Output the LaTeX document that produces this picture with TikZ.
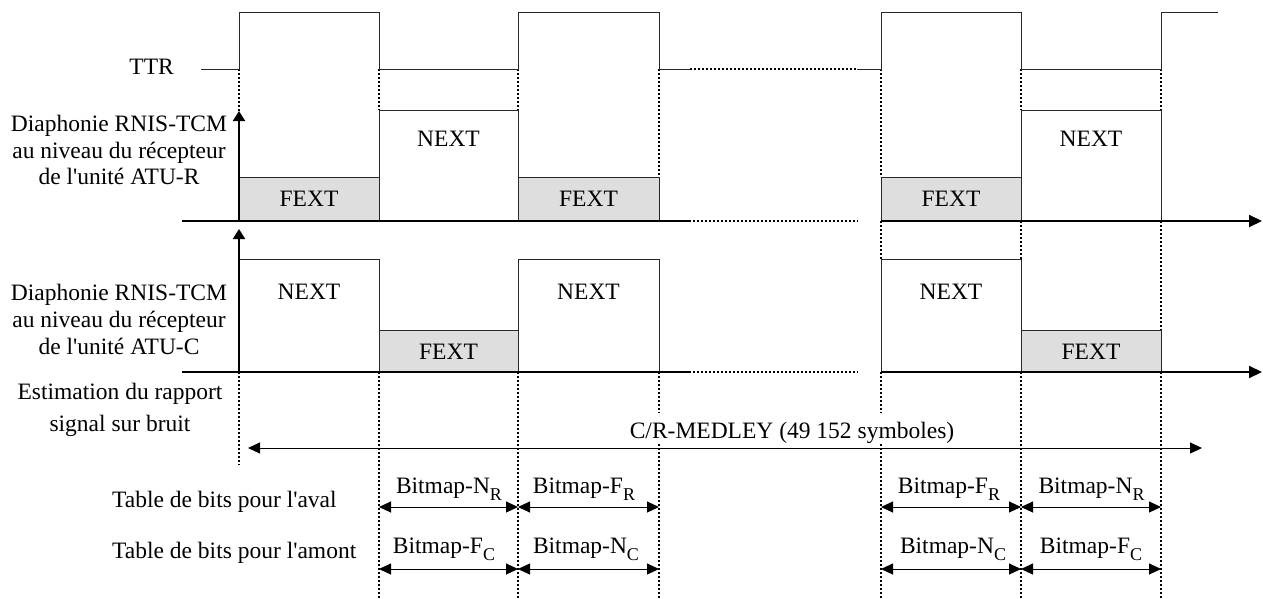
\documentclass[tikz,border=0pt]{standalone}
\usepackage{fontspec}
\newfontfamily\tnr{Liberation Serif}
\usetikzlibrary{arrows.meta}
\definecolor{fextgray}{RGB}{222,222,222}
\definecolor{boxline}{RGB}{40,40,40}
\newcommand{\sbt}[1]{\raisebox{-7pt}{\fontsize{18}{18}\selectfont #1}}
\begin{document}
\begin{tikzpicture}[x=1pt,y=-1pt,
  every node/.style={font=\tnr\fontsize{23.5}{28}\selectfont, inner sep=0pt, anchor=base},
  boxr/.style={draw=boxline, line width=1pt},
  fext/.style={boxr, fill=fextgray},
  sig/.style={draw=boxline, line width=1pt},
  axisline/.style={line width=2pt},
  axis/.style={line width=2pt, -{Triangle[length=13pt,width=12pt]}},
  uparrow/.style={line width=2pt, -{Triangle[length=10pt,width=12pt]}},
  vdots/.style={line width=2pt, dash pattern=on 2.2pt off 1.8pt},
  hdots/.style={line width=1.8pt, dash pattern=on 2.2pt off 1.8pt},
  span/.style={line width=1pt, {Triangle[length=12pt,width=11pt]}-{Triangle[length=12pt,width=11pt]}}]

\useasboundingbox (0,0) rectangle (1263,598);

% ---- dotted vertical guides ----
\draw[vdots] (239,69) -- (239,111);
\draw[vdots] (239,372) -- (239,465);
\draw[vdots] (379,69) -- (379,110);
\draw[vdots] (379,372) -- (379,598);
\draw[vdots] (518,69) -- (518,110);
\draw[vdots] (518,372) -- (518,598);
\draw[vdots] (659,69) -- (659,177);
\draw[vdots] (659,372) -- (659,413);
\draw[vdots] (659,444) -- (659,598);
\draw[vdots] (881,69) -- (881,177);
\draw[vdots] (881,221) -- (881,259);
\draw[vdots] (881,372) -- (881,413);
\draw[vdots] (881,444) -- (881,598);
\draw[vdots] (1021,69) -- (1021,110);
\draw[vdots] (1021,221) -- (1021,259);
\draw[vdots] (1021,372) -- (1021,598);
\draw[vdots] (1161,69) -- (1161,110);
\draw[vdots] (1161,221) -- (1161,330);
\draw[vdots] (1161,372) -- (1161,598);

% ---- TTR signal ----
\draw[sig] (201,69) -- (239,69) -- (239,12) -- (379,12) -- (379,69) -- (518,69) -- (518,12) -- (659,12) -- (659,69) -- (690,69);
\draw[hdots] (690,69) -- (857,69);
\draw[sig] (857,69) -- (881,69) -- (881,12) -- (1021,12) -- (1021,69) -- (1161,69) -- (1161,12) -- (1218,12);

% ---- ATU-R crosstalk ----
\draw[fext] (239,177) rectangle (379,221);
\draw[boxr] (379,110) rectangle (518,221);
\draw[fext] (518,177) rectangle (659,221);
\draw[fext] (881,177) rectangle (1021,221);
\draw[boxr] (1021,110) rectangle (1161,221);
\node (rf1) at (309,206.5) {FEXT};
\node (rn1) at (448.5,146) {NEXT};
\node (rf2) at (588.5,206.5) {FEXT};
\node (rf3) at (951,206.5) {FEXT};
\node (rn2) at (1091,146) {NEXT};

% ---- ATU-C crosstalk ----
\draw[boxr] (239,259) rectangle (379,372);
\draw[fext] (379,330) rectangle (518,372);
\draw[boxr] (518,259) rectangle (659,372);
\draw[boxr] (881,259) rectangle (1021,372);
\draw[fext] (1021,330) rectangle (1161,372);
\node (cn1) at (309,299) {NEXT};
\node (cf1) at (448.5,359) {FEXT};
\node (cn2) at (588.5,299) {NEXT};
\node (cn3) at (951,299) {NEXT};
\node (cf2) at (1091,359) {FEXT};

% ---- axes ----
\coordinate (uA0) at (182,221);
\coordinate (uA1) at (689,221);
\coordinate (uD1) at (858,221);
\coordinate (uA2) at (881,221);
\coordinate (uA3) at (1262,221);
\draw[axisline] (uA0) -- (uA1);
\draw[hdots] (uA1) -- (uD1);
\draw[axis] (uA2) -- (uA3);
\coordinate (lA0) at (182,372);
\coordinate (lA1) at (689,372);
\coordinate (lD1) at (858,372);
\coordinate (lA2) at (881,372);
\coordinate (lA3) at (1262,372);
\draw[axisline] (lA0) -- (lA1);
\draw[hdots] (lA1) -- (lD1);
\draw[axis] (lA2) -- (lA3);
\coordinate (uO) at (239,221);
\coordinate (uT) at (239,111);
\draw[uparrow] (uO) -- (uT);
\coordinate (lO) at (239,372);
\coordinate (lT) at (239,229);
\draw[uparrow] (lO) -- (lT);

% ---- left labels ----
\node[anchor=base east] (ttr) at (174,74) {TTR};
\node (dr1) at (119,131) {Diaphonie RNIS-TCM};
\node (dr2) at (119,158) {au niveau du récepteur};
\node (dr3) at (119,184) {de l'unité ATU-R};
\node (dc1) at (119,300) {Diaphonie RNIS-TCM};
\node (dc2) at (119,327) {au niveau du récepteur};
\node (dc3) at (119,354) {de l'unité ATU-C};
\node (es1) at (120,399) {Estimation du rapport};
\node (es2) at (120,431) {signal sur bruit};
\node[anchor=base west] (tav) at (112,507) {Table de bits pour l'aval};
\node[anchor=base west] (tam) at (112,558) {Table de bits pour l'amont};

% ---- C/R-MEDLEY ----
\coordinate (mL) at (248,448);
\coordinate (mR) at (1202,448);
\draw[span] (mL) -- (mR);
\node (med) at (792,438) {C/R-MEDLEY (49 152 symboles)};

% ---- bitmaps ----
\coordinate (a2) at (379,507); \coordinate (a3) at (518,507); \coordinate (a4) at (659,507);
\coordinate (a5) at (881,507); \coordinate (a6) at (1021,507); \coordinate (a7) at (1161,507);
\coordinate (b2) at (379,569); \coordinate (b3) at (518,569); \coordinate (b4) at (659,569);
\coordinate (b5) at (881,569); \coordinate (b6) at (1021,569); \coordinate (b7) at (1161,569);
\draw[span] (a2) -- (a3);
\draw[span] (a3) -- (a4);
\draw[span] (a5) -- (a6);
\draw[span] (a6) -- (a7);
\draw[span] (b2) -- (b3);
\draw[span] (b3) -- (b4);
\draw[span] (b5) -- (b6);
\draw[span] (b6) -- (b7);
\node (ba1) at (449,493) {Bitmap-N\sbt{R}};
\node (ba2) at (584,493) {Bitmap-F\sbt{R}};
\node (ba3) at (949,493) {Bitmap-F\sbt{R}};
\node (ba4) at (1091.5,493) {Bitmap-N\sbt{R}};
\node (bb1) at (444,553) {Bitmap-F\sbt{C}};
\node (bb2) at (586,553) {Bitmap-N\sbt{C}};
\node (bb3) at (953,553) {Bitmap-N\sbt{C}};
\node (bb4) at (1091,553) {Bitmap-F\sbt{C}};
\end{tikzpicture}
\end{document}
